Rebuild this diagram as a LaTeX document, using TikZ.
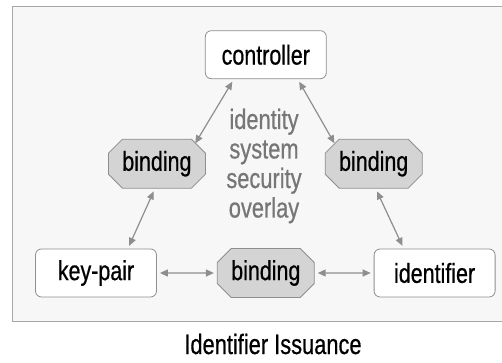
\documentclass[tikz,border=0pt]{standalone}
\usepackage{fontspec}
\setmainfont{Liberation Sans}
\newfontfamily\narrowfont[FakeStretch=0.78, FakeBold=0.6]{Liberation Sans}
\usetikzlibrary{shapes.misc, arrows.meta, positioning, calc}
\definecolor{edgegray}{HTML}{8E8E8E}
\definecolor{bindgray}{HTML}{D4D4D4}
\definecolor{framegray}{HTML}{F7F7F7}
\definecolor{overlaygray}{HTML}{767676}

\begin{document}
\begin{tikzpicture}
  [
  x = 1pt, y = 1pt,
  box/.style = {rectangle, rounded corners = 6pt, draw = edgegray,
    fill = white, thick, minimum height = 48pt, minimum width = 121pt,
    inner sep = 0pt, font = \narrowfont\fontsize{27.5}{30}\selectfont},
  % binding
  bind/.style = {chamfered rectangle, chamfered rectangle xsep = 7pt,
    chamfered rectangle ysep = 7pt, draw = edgegray, fill = bindgray,
    thick, minimum height = 49pt, minimum width = 97pt, inner sep = 0pt,
    font = \narrowfont\fontsize{27.5}{30}\selectfont},
  % line
  line/.style = {draw = edgegray, line width = 1.2pt,
    {Triangle[length = 8pt, width = 7pt]}-{Triangle[length = 8pt, width = 7pt]},
    shorten > = 3pt, shorten < = 3pt},
  node distance = 60pt,
  ]
  \useasboundingbox (0,0) rectangle (502,362);

  % frame
  \draw [draw = gray!70, fill = framegray, line width = 1pt] (12,41) rectangle (520,355);

  % nodes
  \node [box] (keypair) at (96,89) {key-pair};
  \node [bind, right = 60pt of keypair] (bindb) {binding};
  \node [box, right = 59pt of bindb] (ident) {identifier};
  \node [box, above = 169pt of bindb] (ctrl) {controller};
  \node [bind, above = 60pt of keypair.north east, anchor = south] (bindl) {binding};
  \node [bind, above = 60pt of ident.north west, anchor = south] (bindr) {binding};
  \node [text = overlaygray, align = center,
    font = \narrowfont\fontsize{28}{29.5}\selectfont] (overlay) at (264,196)
  {identity\\system\\security\\overlay};
  % title
  \node [font = \narrowfont\fontsize{28}{30}\selectfont, anchor = base,
    inner sep = 0pt, text depth = 0pt] (title) at (273,8) {Identifier Issuance};

  % path
  \path [line] ([xshift = 29pt]ctrl.south west) -- ([xshift = -5pt]bindl.north east);
  \path [line] ([xshift = -29pt]ctrl.south east) -- ([xshift = 4pt]bindr.north west);
  \path [line] ([xshift = -2pt]bindl.south) -- ([xshift = -29pt]keypair.north east);
  \path [line] ([xshift = 2pt]bindr.south) -- ([xshift = 30pt]ident.north west);
  \path [line] (keypair) -- (bindb);
  \path [line] (bindb) -- (ident);

\end{tikzpicture}
\end{document}
